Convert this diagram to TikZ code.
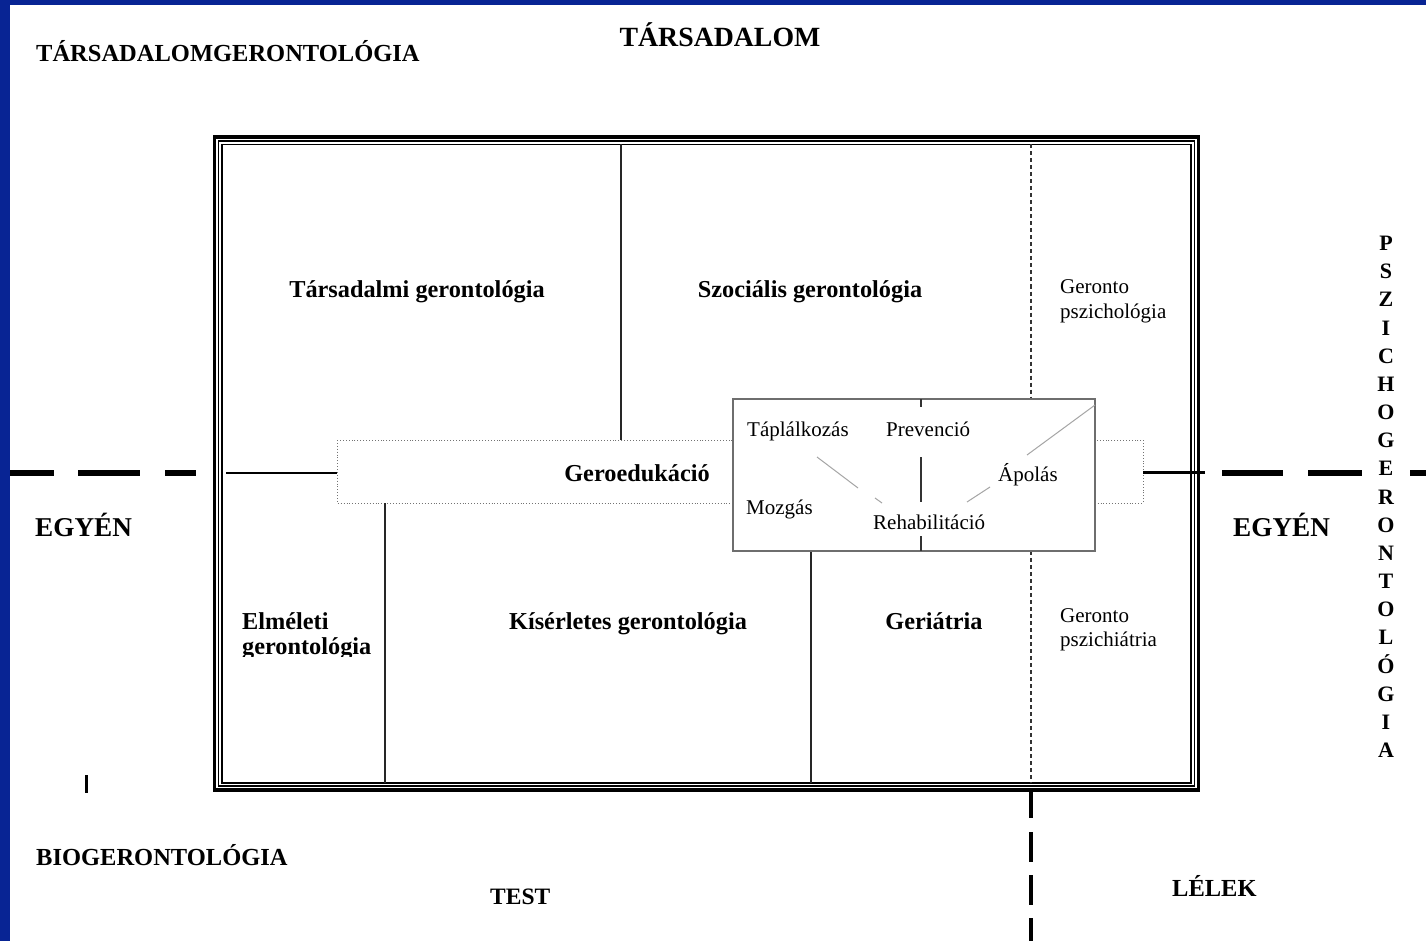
\documentclass[tikz,border=0pt]{standalone}
\usepackage{fontspec}
\setmainfont{Liberation Serif}
\definecolor{slideblue}{RGB}{8,36,148}
\definecolor{boxgray}{RGB}{110,110,110}
\definecolor{diaggray}{RGB}{165,165,165}
\begin{document}
\begin{tikzpicture}[x=1pt,y=-1pt,
  title/.style={inner sep=0,anchor=base west,font=\fontsize{24.5}{28}\selectfont\bfseries},
  ctitle/.style={inner sep=0,anchor=base,font=\fontsize{27.8}{32}\selectfont\bfseries},
  vletter/.style={inner sep=0,anchor=base,font=\fontsize{22}{26}\selectfont\bfseries},
  lbl/.style={inner sep=0,anchor=base,font=\fontsize{24.3}{28}\selectfont\bfseries},
  lbll/.style={inner sep=0,anchor=base west,font=\fontsize{24.3}{28}\selectfont\bfseries},
  sml/.style={inner sep=0,anchor=base west,font=\fontsize{21}{25}\selectfont},
  thickdash/.style={line width=6pt,black},
  vdash/.style={line width=4.5pt,black},
  divider/.style={line width=1.6pt,black!85},
  dotdiv/.style={line width=1.2pt,black!80,dash pattern=on 4pt off 3pt},
  diag/.style={line width=1pt,diaggray},
]
\useasboundingbox (0,0) rectangle (1426,941);
\fill[white] (0,0) rectangle (1426,941);
% slide border
\fill[slideblue] (0,0) rectangle (10,941);
\fill[slideblue] (0,0) rectangle (1426,5);

% corner coordinates
\coordinate (fo1) at (214.5,137);  \coordinate (fo2) at (1198.5,790);
\coordinate (fm1) at (218.5,141);  \coordinate (fm2) at (1194.5,786);
\coordinate (fi1) at (222,144.5);  \coordinate (fi2) at (1191,783);

% triple frame
\draw[line width=3.2pt] (fo1) rectangle (fo2);
\draw[line width=1.5pt] (fm1) rectangle (fm2);
\draw[line width=1.5pt] (fi1) rectangle (fi2);

% Geroedukacio dotted band
\coordinate (ge1) at (337,440); \coordinate (ge2) at (1143,503);
\draw[black!55,line width=0.9pt,dotted] (ge1) rectangle (ge2);

% horizontal axis
\coordinate (la) at (226,472.5); \coordinate (lb) at (337,472.5);
\draw[line width=2pt] (la) -- (lb);
\coordinate (ra) at (1143,472.5); \coordinate (rb) at (1205,472.5);
\draw[line width=3pt] (ra) -- (rb);
\draw[thickdash] (10,472.5) -- (54,472.5);
\draw[thickdash] (78,472.5) -- (140,472.5);
\draw[thickdash] (165,472.5) -- (196,472.5);
\draw[thickdash] (1222,472.5) -- (1283,472.5);
\draw[thickdash] (1308,472.5) -- (1362,472.5);
\draw[thickdash] (1410,472.5) -- (1426,472.5);

% internal dividers
\coordinate (d1a) at (621,144.5); \coordinate (d1b) at (621,440);
\draw[divider] (d1a) -- (d1b);
\coordinate (d2a) at (385,503); \coordinate (d2b) at (385,783);
\draw[divider] (d2a) -- (d2b);
\coordinate (d3a) at (811,551); \coordinate (d3b) at (811,783);
\draw[divider] (d3a) -- (d3b);
\coordinate (d4a) at (1031,144.5); \coordinate (d4b) at (1031,399);
\draw[dotdiv] (d4a) -- (d4b);
\coordinate (d5a) at (1031,551); \coordinate (d5b) at (1031,783);
\draw[dotdiv] (d5a) -- (d5b);

% bottom vertical dashed axis
\draw[vdash] (1031,788) -- (1031,818);
\draw[vdash] (1031,832) -- (1031,862);
\draw[vdash] (1031,875) -- (1031,905);
\draw[vdash] (1031,918) -- (1031,941);

% central care box
\coordinate (cb1) at (733,399); \coordinate (cb2) at (1095,551);
\filldraw[fill=white,draw=boxgray,line width=1.2pt] (cb1) rectangle (cb2);
\draw[line width=1.3pt,black!80] (921,399) -- (921,407);
\draw[line width=1.3pt,black!80] (921,457) -- (921,502);
\draw[line width=1.3pt,black!80] (921,536) -- (921,551);
\draw[diag] (817,457) -- (858,488);
\draw[diag] (875,498) -- (882,503);
\draw[diag] (967,502) -- (990,487);
\draw[diag] (1027,455) -- (1095,405);

% small mark
\draw[line width=3pt] (86,775) -- (86,793);

% outer titles
\node[title] (tg) at (36,62) {TÁRSADALOMGERONTOLÓGIA};
\node[ctitle] (tars) at (720,47) {TÁRSADALOM};
\node[title,font=\fontsize{27.2}{30}\selectfont\bfseries] (egyl) at (35,536) {EGYÉN};
\node[title,font=\fontsize{27.2}{30}\selectfont\bfseries] (egyr) at (1233,536) {EGYÉN};
\node[title] (bio) at (36,865) {BIOGERONTOLÓGIA};
\node[title,font=\fontsize{23.5}{28}\selectfont\bfseries] (test) at (490,904) {TEST};
\node[title] (lelek) at (1172,896) {LÉLEK};
\foreach \l [count=\i from 0] in {P,S,Z,I,C,H,O,G,E,R,O,N,T,O,L,Ó,G,I,A}
  \node[vletter] (v\i) at (1386,{250.5+28.17*\i}) {\l};

% area labels
\node[lbl] (tgl) at (417,297) {Társadalmi gerontológia};
\node[lbl] (szg) at (810,297) {Szociális gerontológia};
\node[lbl] (ged) at (637,481) {Geroedukáció};
\node[lbl] (kis) at (628,629) {Kísérletes gerontológia};
\node[lbl] (ger) at (934,629) {Geriátria};
\node[lbll] (elm) at (242,629) {Elméleti};
\begin{scope}
  \clip (230,630) rectangle (384,656);
  \node[lbll] (elm2) at (242,654) {gerontológia};
\end{scope}
\node[sml] (gp1) at (1060,294) {Geronto};
\node[sml] (gp2) at (1060,318) {pszichológia};
\node[sml] (gq1) at (1060,622) {Geronto};
\node[sml] (gq2) at (1060,646) {pszichiátria};

% care box labels
\node[sml] (tap) at (747,436) {Táplálkozás};
\node[sml] (pre) at (886,436) {Prevenció};
\node[sml] (apo) at (998,481) {Ápolás};
\node[sml] (moz) at (746,514) {Mozgás};
\node[sml] (reh) at (873,529) {Rehabilitáció};
\end{tikzpicture}
\end{document}
